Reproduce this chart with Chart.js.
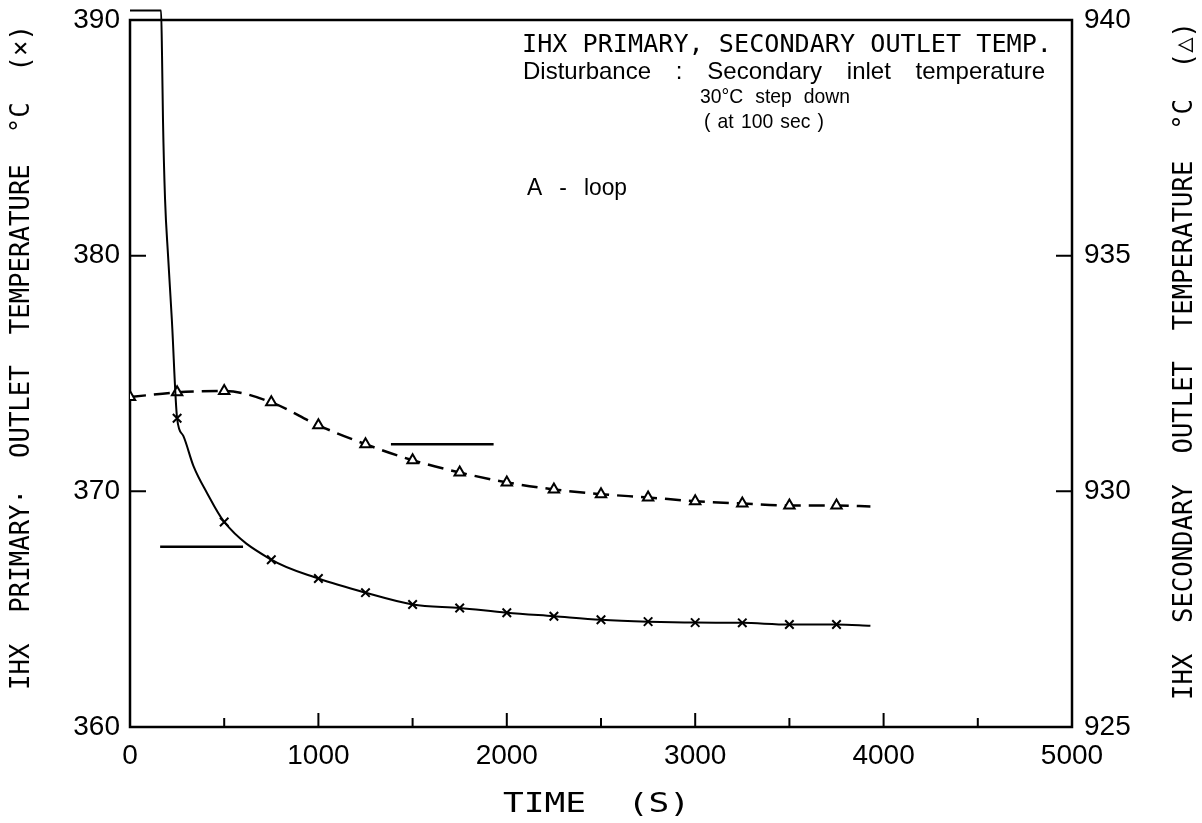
<!DOCTYPE html>
<html>
<head>
<meta charset="utf-8">
<script src="https://cdn.jsdelivr.net/npm/chart.js@4.4.1/dist/chart.umd.min.js"></script>
<style>
  html, body { margin: 0; padding: 0; background: #fff; }
  #c { display: block; }
</style>
</head>
<body>
<canvas id="c" width="1202" height="823"></canvas>
<script>
// primary outlet temp (x marks, left axis)
const primaryTime = [0, 165, 170, 175, 186, 202, 222, 250, 283, 337, 408, 500, 750, 1000, 1250, 1500, 1750, 2000, 2250, 2500, 2750, 3000, 3250, 3500, 3750, 3930];
const primaryTemp = [390.4, 390.4, 388.5, 385.8, 382.4, 380.0, 377.3, 373.1, 372.35, 371.07, 369.94, 368.7, 367.1, 366.3, 365.7, 365.2, 365.05, 364.85, 364.7, 364.55, 364.47, 364.43, 364.42, 364.35, 364.35, 364.3];

// secondary outlet temp (triangles, right axis)
const secondaryTime = [0, 250, 500, 750, 1000, 1250, 1500, 1750, 2000, 2250, 2500, 2750, 3000, 3250, 3500, 3750, 3930];
const secondaryTemp = [932.0, 932.1, 932.13, 931.89, 931.4, 931.0, 930.66, 930.4, 930.19, 930.04, 929.94, 929.87, 929.79, 929.74, 929.7, 929.7, 929.68];

// axis pointer bars
const leftPointerTime = [160, 600];
const leftPointerTemp = [367.65, 367.65];
const rightPointerTime = [1385, 1930];
const rightPointerTemp = [931.0, 931.0];

// tick values
const xMajorTicks = [1000, 2000, 3000, 4000];
const xMinorTicks = [500, 1500, 2500, 3500, 4500];
const yLeftTicks = [370, 380];
const yRightTicks = [930, 935];

const toPts = (xs, ys) => xs.map((x, i) => ({ x: x, y: ys[i] }));
const marked = ctx => {
  const t = ctx.raw ? ctx.raw.x : -1;
  return (t % 250 === 0 && t <= 3750) ? 6 : 0;
};

// draw text stretched to a given width; sx set = fixed squeeze, gaps take the rest
function fitText(ctx, text, x, y, width, font, rotate, sx) {
  ctx.save();
  ctx.font = font;
  ctx.wordSpacing = '0px';
  const w = ctx.measureText(text).width;
  let scale = width / w;
  if (sx) {
    const n = text.split(' ').length - 1;
    if (n > 0) ctx.wordSpacing = ((width / sx - w) / n) + 'px';
    scale = sx;
  }
  ctx.translate(x, y);
  if (rotate) ctx.rotate(-Math.PI / 2);
  ctx.scale(scale, 1);
  ctx.textBaseline = 'middle';
  ctx.textAlign = 'left';
  ctx.fillStyle = '#000';
  ctx.fillText(text, 0, 0);
  ctx.restore();
}

const framePlugin = {
  id: 'frame',
  beforeDatasetsDraw(chart) {
    const { ctx, chartArea: a, scales } = chart;
    ctx.save();
    ctx.strokeStyle = '#000';
    ctx.lineWidth = 2.5;
    ctx.strokeRect(a.left, a.top, a.right - a.left, a.bottom - a.top);
    ctx.lineWidth = 2;
    ctx.beginPath();
    xMajorTicks.forEach(v => {
      const px = scales.x.getPixelForValue(v);
      ctx.moveTo(px, a.bottom); ctx.lineTo(px, a.bottom - 14);
    });
    xMinorTicks.forEach(v => {
      const px = scales.x.getPixelForValue(v);
      ctx.moveTo(px, a.bottom); ctx.lineTo(px, a.bottom - 9);
    });
    yLeftTicks.forEach(v => {
      const py = scales.y.getPixelForValue(v);
      ctx.moveTo(a.left, py); ctx.lineTo(a.left + 16, py);
    });
    yRightTicks.forEach(v => {
      const py = scales.y2.getPixelForValue(v);
      ctx.moveTo(a.right, py); ctx.lineTo(a.right - 16, py);
    });
    ctx.stroke();
    ctx.restore();
  },
  afterDraw(chart) {
    const ctx = chart.ctx;
    const sans = '24px "Liberation Sans"';
    const small = '21px "Liberation Sans"';
    fitText(ctx, 'IHX PRIMARY, SECONDARY OUTLET TEMP.', 522, 45, 530, '25px "DejaVu Sans Mono"');
    fitText(ctx, 'Disturbance : Secondary inlet temperature', 523, 72, 522, sans, false, 1.0);
    fitText(ctx, '30°C step down', 700, 97, 150, small, false, 0.92);
    fitText(ctx, '( at 100 sec )', 704, 122, 120, small, false, 0.92);
    fitText(ctx, 'A - loop', 527, 188, 100, sans, false, 0.95);
    // axis titles
    const tf = '26px "DejaVu Sans Mono"';
    fitText(ctx, 'IHX  PRIMARY·  OUTLET  TEMPERATURE  °C  (×)', 22, 690, 665, tf, true);
    fitText(ctx, 'IHX  SECONDARY  OUTLET  TEMPERATURE  °C  (△)', 1185, 700, 678, tf, true);
    fitText(ctx, 'TIME  (S)', 503, 805, 187, tf);
  }
};

const tickFont = { family: 'Liberation Sans', size: 28, lineHeight: 0.5 };

new Chart(document.getElementById('c'), {
  type: 'line',
  data: {
    datasets: [
      {
        label: 'Primary',
        data: toPts(primaryTime, primaryTemp),
        yAxisID: 'y',
        borderColor: '#000',
        borderWidth: 2,
        cubicInterpolationMode: 'monotone',
        pointStyle: 'crossRot',
        pointRadius: marked,
        pointBorderColor: '#000',
        pointBorderWidth: 2,
        clip: 12
      },
      {
        label: 'Secondary',
        data: toPts(secondaryTime, secondaryTemp),
        yAxisID: 'y2',
        borderColor: '#000',
        borderWidth: 2.5,
        borderDash: [16, 8],
        cubicInterpolationMode: 'monotone',
        pointStyle: 'triangle',
        pointRadius: marked,
        pointBackgroundColor: '#fff',
        pointBorderColor: '#000',
        pointBorderWidth: 2
      },
      {
        label: 'left pointer',
        data: toPts(leftPointerTime, leftPointerTemp),
        yAxisID: 'y',
        borderColor: '#000',
        borderWidth: 2.5,
        pointRadius: 0
      },
      {
        label: 'right pointer',
        data: toPts(rightPointerTime, rightPointerTemp),
        yAxisID: 'y2',
        borderColor: '#000',
        borderWidth: 2.5,
        pointRadius: 0
      }
    ]
  },
  options: {
    responsive: false,
    animation: false,
    layout: { padding: { top: 20, left: 0, right: 0, bottom: 0 } },
    plugins: { legend: { display: false }, tooltip: { enabled: false } },
    scales: {
      x: {
        type: 'linear',
        min: 0,
        max: 5000,
        ticks: { stepSize: 1000, color: '#000', font: { family: 'Liberation Sans', size: 28 }, padding: 12, maxRotation: 0, callback: v => String(v) },
        grid: { display: false, drawTicks: false },
        border: { display: false },
        afterFit: s => { s.height = 96; }
      },
      y: {
        position: 'left',
        min: 360,
        max: 390,
        ticks: { stepSize: 10, color: '#000', font: tickFont, padding: 10 },
        grid: { display: false, drawTicks: false },
        border: { display: false },
        afterFit: s => { s.width = 130; }
      },
      y2: {
        position: 'right',
        min: 925,
        max: 940,
        ticks: { stepSize: 5, color: '#000', font: tickFont, padding: 12 },
        grid: { display: false, drawTicks: false },
        border: { display: false },
        afterFit: s => { s.width = 130; }
      }
    }
  },
  plugins: [framePlugin]
});
</script>
</body>
</html>
